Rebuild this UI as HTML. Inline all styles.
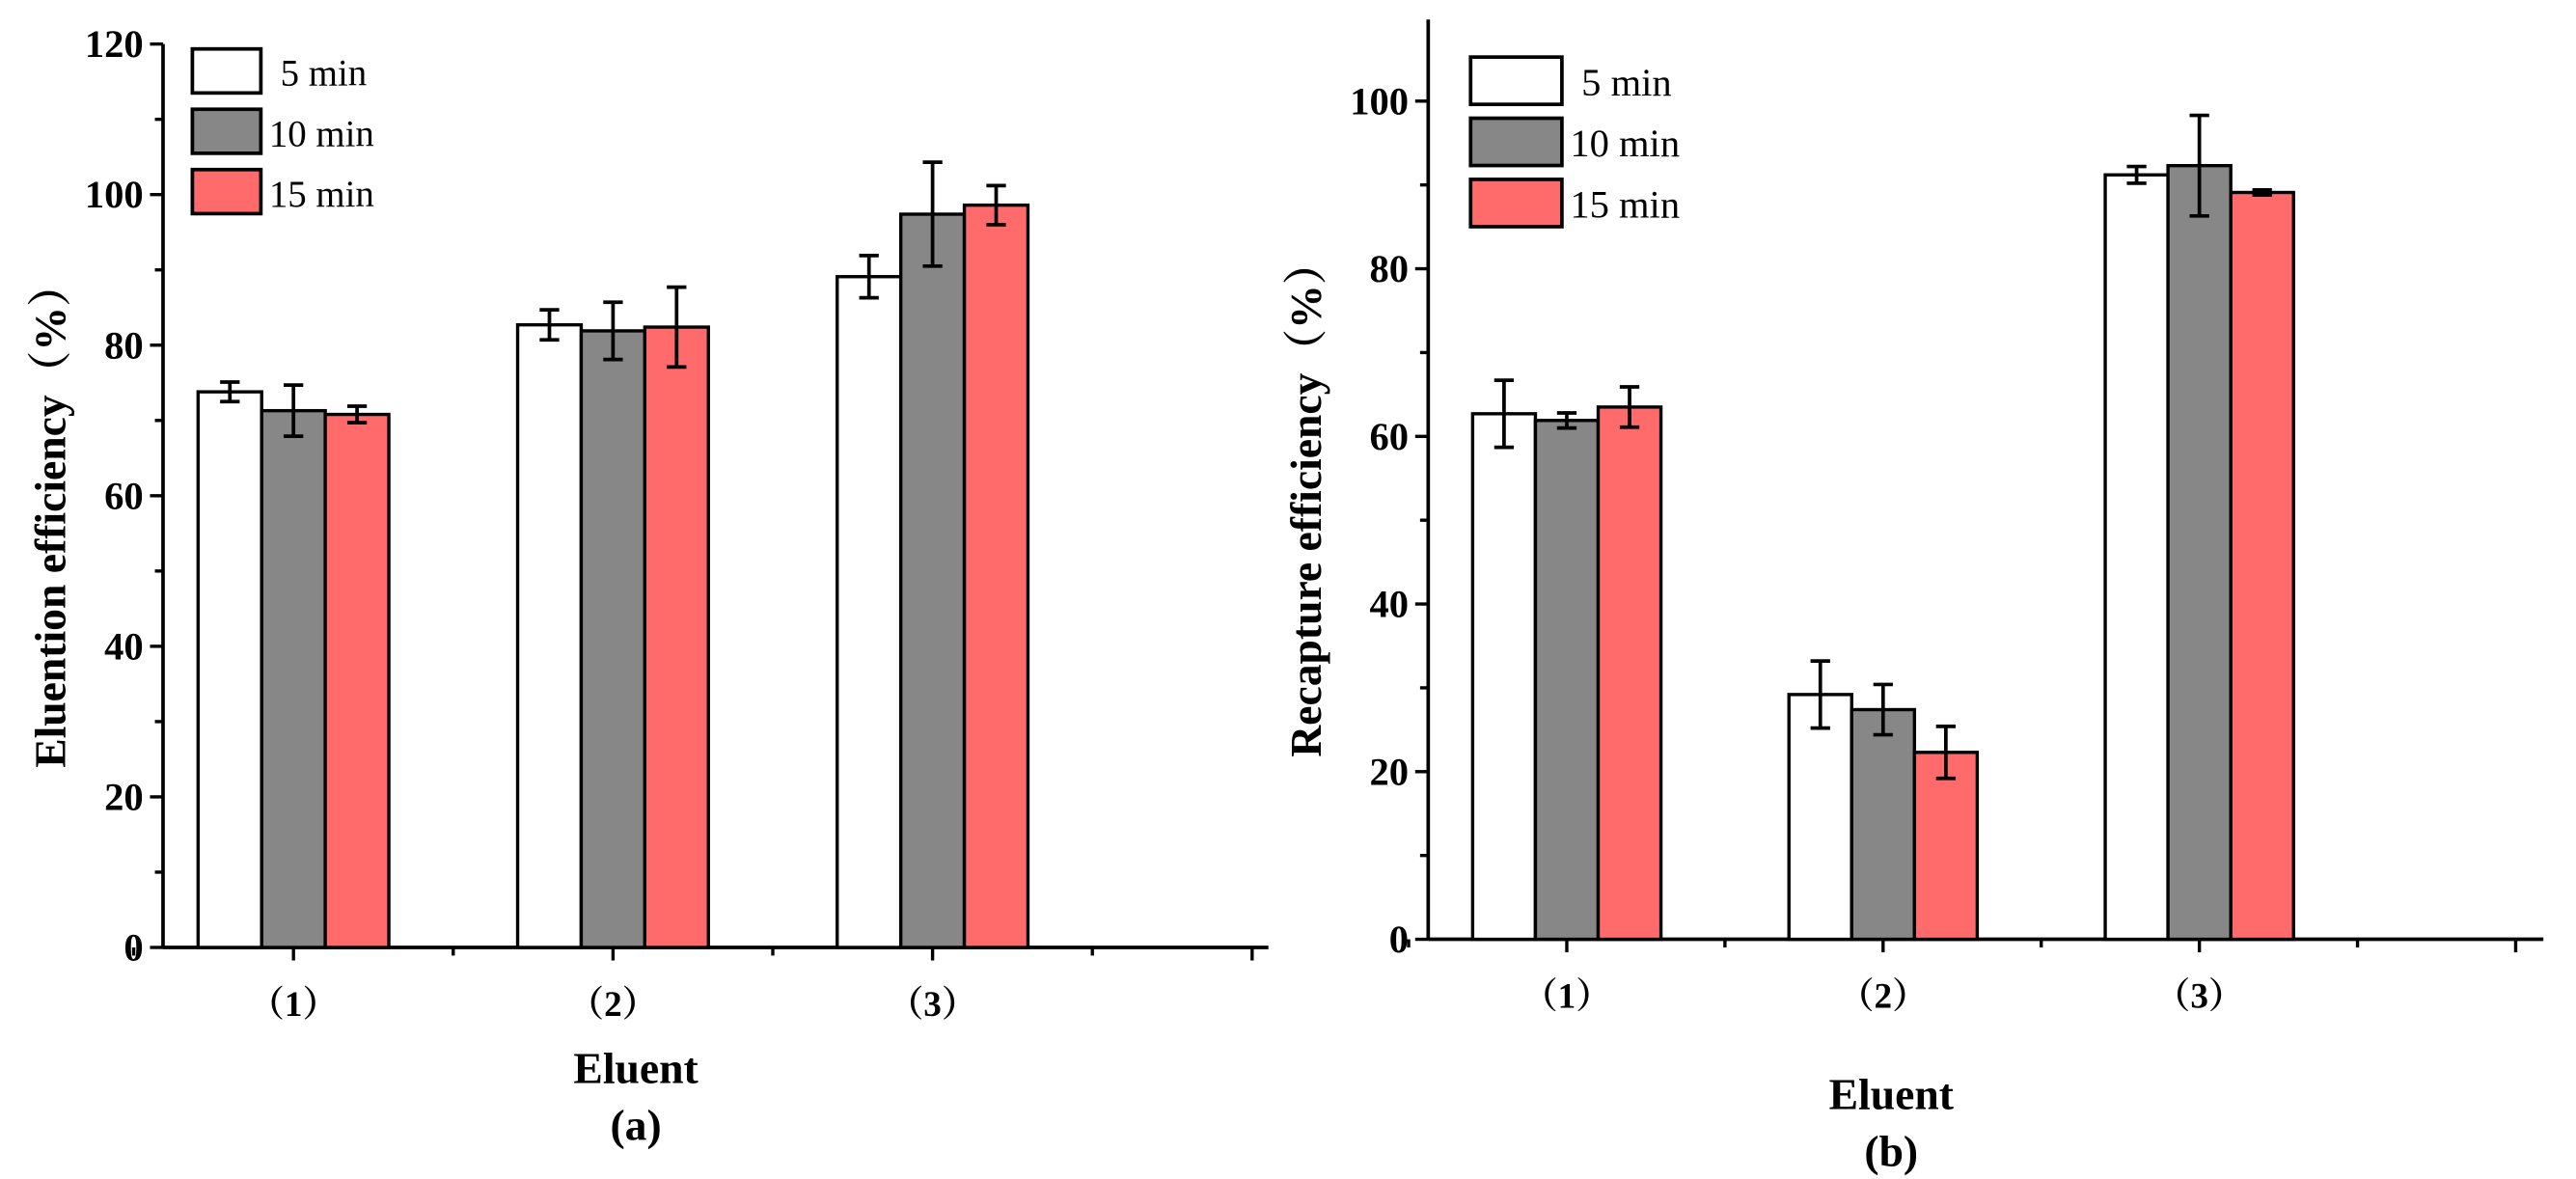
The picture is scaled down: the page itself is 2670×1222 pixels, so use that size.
<!DOCTYPE html>
<html><head><meta charset="utf-8"><style>
html,body{margin:0;padding:0;background:#fff;}
svg{display:block;font-family:"Liberation Serif","Noto Serif CJK SC",serif;}
</style></head><body>
<svg id="fig" width="2670" height="1222" viewBox="0 0 1580 723" preserveAspectRatio="none" xmlns="http://www.w3.org/2000/svg"></svg>
<script>
const categories = ["（1）","（2）","（3）"];
const seriesNames = ["5 min","10 min","15 min"];
const colors = ["#ffffff","#878787","#ff6b6b"];
const elutionValues = [[73.8,82.7,89.1],[71.3,81.9,97.4],[70.8,82.4,98.6]];
const elutionErrors = [[1.3,2.0,2.8],[3.4,3.8,6.9],[1.1,5.3,2.6]];
const recaptureValues = [[62.7,29.2,91.2],[61.9,27.4,92.3],[63.5,22.3,89.1]];
const recaptureErrors = [[4.0,4.0,1.0],[0.9,3.0,6.0],[2.4,3.1,0.3]];
const elutionTicks = [0,20,40,60,80,100,120];
const recaptureTicks = [0,20,40,60,80,100];

const NS="http://www.w3.org/2000/svg";
const svg=document.getElementById('fig');
function mk(tag,attrs,parent){const e=document.createElementNS(NS,tag);for(const k in attrs)e.setAttribute(k,attrs[k]);(parent||svg).appendChild(e);return e;}

function panel(p){
  const g=mk('g',{});
  
  
  const y=v=>p.y0-v*(p.y0-p.yTop)/(p.yMaxAx);
  const x=i=>p.c0+i*p.step;
  const ya=mk('line',{x1:p.ax,y1:p.axTop,x2:p.ax,y2:p.y0,stroke:'#000','stroke-width':2.2},g);
  
  const xa=mk('line',{x1:p.ax,y1:p.y0,x2:p.xEnd,y2:p.y0,stroke:'#000','stroke-width':2.2},g);
  
  for(let v=0;v<=p.yMaxAx;v+=10){
    const major=v%20===0;
    mk('line',{x1:p.ax-(major?8:5),y1:y(v),x2:p.ax,y2:y(v),stroke:'#000','stroke-width':2},g);
  }
  p.ticks.forEach(t=>{
    const tx=mk('text',{x:p.ax-12,y:y(t)+8,'text-anchor':'end','font-size':24,'font-weight':'bold'},g);
    tx.textContent=t;
    
  });
  for(let i=0;i<4;i++){
    mk('line',{x1:x(i),y1:p.y0,x2:x(i),y2:p.y0+8,stroke:'#000','stroke-width':2},g);
    mk('line',{x1:x(i)-p.step/2,y1:p.y0,x2:x(i)-p.step/2,y2:p.y0+5,stroke:'#000','stroke-width':2},g);
  }
  categories.forEach((c,i)=>{
    const t=mk('text',{x:x(i),y:p.y0+42,'text-anchor':'middle','font-size':22,'font-weight':'bold'},g);
    t.textContent=c;
    
  });
  const bw=p.bw;
  p.vals.forEach((ser,s)=>{
    ser.forEach((v,i)=>{
      const bx=x(i)+(s-1.5)*bw;
      const r=mk('rect',{x:bx,y:y(v),width:bw,height:p.y0-y(v),fill:colors[s],stroke:'#000','stroke-width':2},g);
      
      
      const e=p.errs[s][i], cx=bx+bw/2;
      const eb=mk('path',{d:`M${cx},${y(v+e)}V${y(v-e)}M${cx-6},${y(v+e)}H${cx+6}M${cx-6},${y(v-e)}H${cx+6}`,stroke:'#000','stroke-width':2.2,fill:'none'},g);
      
      
    });
  });
  seriesNames.forEach((n,s)=>{
    const ly=p.legY+s*p.legStep;
    const r=mk('rect',{x:p.legX,y:ly,width:p.legW,height:p.legH,fill:colors[s],stroke:'#000','stroke-width':2.2},g);
    
    const t=mk('text',{x:p.legX+p.legW+(s===0?12:5),y:ly+p.legH/2+9,'font-size':p.legFs},g);
    t.textContent=n;
    
  });
  const yt=mk('text',{transform:`translate(${p.ytX},${(p.axTop+p.y0)/2+12}) rotate(-90)`,'text-anchor':'middle','font-size':27,'font-weight':'bold'},g);
  yt.textContent=p.yTitle;
  
  const xt=mk('text',{x:p.xtX,y:p.xtY,'text-anchor':'middle','font-size':27,'font-weight':'bold'},g);
  xt.textContent='Eluent';
  
  const lb=mk('text',{x:p.xtX,y:p.xtY+35,'text-anchor':'middle','font-size':27,'font-weight':'bold'},g);
  lb.textContent=p.label;
  
}
panel({name:'chart-a',ax:100,axTop:27,y0:581,yTop:27,yMaxAx:120,xEnd:778,c0:180,step:196,bw:39,
  vals:elutionValues,errs:elutionErrors,ticks:elutionTicks,
  legX:118,legY:30,legStep:37,legW:42,legH:27,legFs:23,
  yTitle:'Eluention efficiency（%）',ytX:40,xtX:390,xtY:664,label:'(a)'});
panel({name:'chart-b',ax:876,axTop:12,y0:576,yTop:62,yMaxAx:100,xEnd:1560,c0:961,step:194,bw:38.5,
  vals:recaptureValues,errs:recaptureErrors,ticks:recaptureTicks,
  legX:902,legY:35,legStep:37.5,legW:56,legH:29,legFs:24,
  yTitle:'Recapture efficiency（%）',ytX:810,xtX:1160,xtY:680,label:'(b)'});
</script>
</body></html>
